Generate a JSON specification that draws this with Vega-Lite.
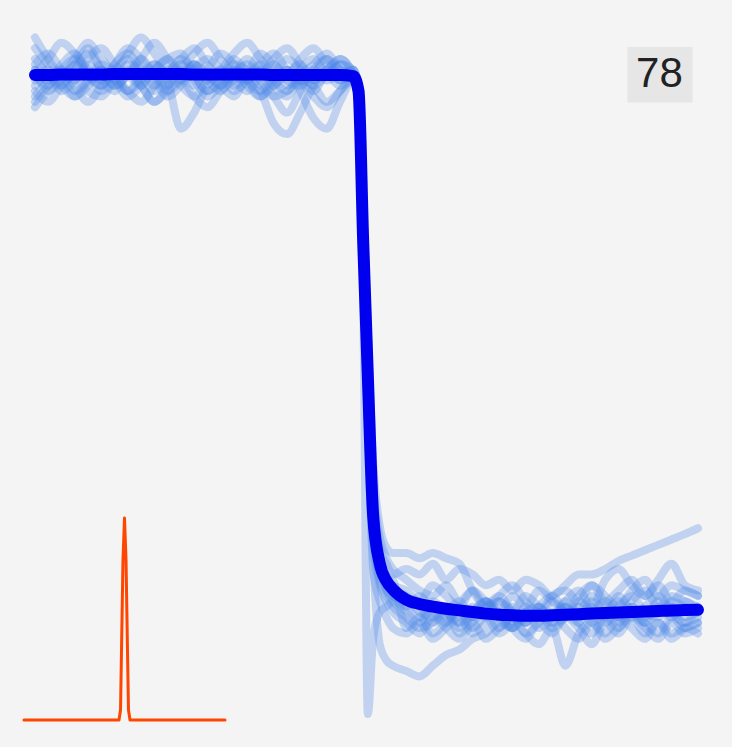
{
  "$schema": "https://vega.github.io/schema/vega-lite/v6.json",
  "width": 732,
  "height": 747,
  "autosize": {"type": "fit", "contains": "padding"},
  "padding": 0,
  "background": "#f4f4f4",
  "config": {"view": {"stroke": null, "fill": "#f4f4f4"}},
  "datasets": {
    "traces": [
      {"t":0,"a":102,"b":97,"c":100,"d":94,"e":101,"f":105,"g":99,"h":103,"i":96,"j":100,"k":107,"l":98,"m":101,"n":95,"avg":100},
      {"t":2,"a":104,"b":95,"c":103,"d":97,"e":99,"f":102,"g":101,"h":100,"i":99,"j":98,"k":103,"l":100,"m":97,"n":98,"avg":100},
      {"t":4,"a":101,"b":98,"c":106,"d":99,"e":102,"f":100,"g":98,"h":98,"i":101,"j":101,"k":100,"l":97,"m":99,"n":100,"avg":100.1},
      {"t":6,"a":99,"b":100,"c":104,"d":96,"e":104,"f":103,"g":96,"h":101,"i":98,"j":103,"k":102,"l":99,"m":102,"n":97,"avg":100.1},
      {"t":8,"a":103,"b":97,"c":101,"d":98,"e":100,"f":106,"g":99,"h":104,"i":95,"j":100,"k":105,"l":102,"m":100,"n":99,"avg":100.1},
      {"t":10,"a":105,"b":96,"c":99,"d":101,"e":97,"f":103,"g":102,"h":101,"i":98,"j":98,"k":101,"l":99,"m":98,"n":101,"avg":100.1},
      {"t":12,"a":102,"b":99,"c":102,"d":99,"e":99,"f":101,"g":100,"h":99,"i":101,"j":102,"k":98,"l":97,"m":100,"n":98,"avg":100.2},
      {"t":14,"a":100,"b":101,"c":105,"d":97,"e":102,"f":104,"g":97,"h":96,"i":103,"j":104,"k":100,"l":100,"m":97,"n":100,"avg":100.2},
      {"t":16,"a":98,"b":98,"c":103,"d":100,"e":101,"f":107,"g":95,"h":98,"i":100,"j":101,"k":103,"l":98,"m":99,"n":103,"avg":100.2},
      {"t":18,"a":101,"b":95,"c":100,"d":102,"e":98,"f":104,"g":98,"h":101,"i":97,"j":99,"k":106,"l":95,"m":102,"n":100,"avg":100.2},
      {"t":20,"a":103,"b":97,"c":98,"d":99,"e":100,"f":101,"g":101,"h":103,"i":99,"j":96,"k":103,"l":98,"m":100,"n":97,"avg":100.2},
      {"t":22,"a":104,"b":99,"c":101,"d":90,"e":103,"f":103,"g":99,"h":100,"i":102,"j":98,"k":100,"l":101,"m":98,"n":99,"avg":100.2},
      {"t":24,"a":100,"b":96,"c":104,"d":93,"e":101,"f":105,"g":102,"h":98,"i":100,"j":101,"k":102,"l":99,"m":96,"n":102,"avg":100.1},
      {"t":26,"a":97,"b":94,"c":106,"d":98,"e":99,"f":102,"g":100,"h":101,"i":97,"j":103,"k":99,"l":96,"m":99,"n":100,"avg":100.1},
      {"t":28,"a":99,"b":97,"c":103,"d":100,"e":97,"f":100,"g":98,"h":104,"i":99,"j":101,"k":101,"l":98,"m":101,"n":98,"avg":100.1},
      {"t":30,"a":102,"b":99,"c":100,"d":97,"e":100,"f":103,"g":96,"h":102,"i":101,"j":98,"k":104,"l":100,"m":99,"n":101,"avg":100.1},
      {"t":32,"a":101,"b":100,"c":99,"d":99,"e":102,"f":101,"g":99,"h":99,"i":98,"j":100,"k":106,"l":103,"m":97,"n":99,"avg":100.1},
      {"t":34,"a":100,"b":98,"c":102,"d":101,"e":99,"f":104,"g":97,"h":97,"i":96,"j":102,"k":103,"l":100,"m":100,"n":96,"avg":100.1},
      {"t":36,"a":103,"b":96,"c":104,"d":98,"e":96,"f":102,"g":91,"h":100,"i":99,"j":99,"k":100,"l":98,"m":102,"n":98,"avg":100},
      {"t":38,"a":105,"b":97,"c":101,"d":96,"e":93,"f":100,"g":89,"h":103,"i":101,"j":97,"k":98,"l":101,"m":99,"n":100,"avg":100},
      {"t":40,"a":102,"b":99,"c":99,"d":99,"e":97,"f":103,"g":93,"h":101,"i":97,"j":100,"k":101,"l":99,"m":98,"n":102,"avg":100},
      {"t":42,"a":99,"b":98,"c":100,"d":97,"e":101,"f":105,"g":98,"h":98,"i":92,"j":102,"k":103,"l":96,"m":101,"n":99,"avg":100},
      {"t":44,"a":101,"b":95,"c":103,"d":100,"e":99,"f":102,"g":101,"h":100,"i":90,"j":104,"k":100,"l":94,"m":103,"n":101,"avg":100},
      {"t":46,"a":103,"b":97,"c":101,"d":98,"e":100,"f":100,"g":99,"h":102,"i":95,"j":101,"k":102,"l":97,"m":99,"n":103,"avg":100},
      {"t":48,"a":100,"b":99,"c":100,"d":99,"e":101,"f":101,"g":100,"h":100,"i":99,"j":99,"k":101,"l":100,"m":100,"n":100,"avg":99.8},
      {"t":48.8,"a":97,"b":96,"c":98,"d":96,"e":97,"f":98,"g":95,"h":97,"i":96,"j":97,"k":98,"l":96,"m":97,"n":97,"avg":97},
      {"t":49.5,"a":72,"b":68,"c":74,"d":65,"e":70,"f":76,"g":60,"h":71,"i":66,"j":69,"k":73,"l":67,"m":70,"n":71,"avg":69},
      {"t":50.2,"a":45,"b":40,"c":48,"d":35,"e":44,"f":52,"g":-19,"h":42,"i":36,"j":41,"k":47,"l":38,"m":43,"n":44,"avg":44},
      {"t":51,"a":20,"b":15,"c":24,"d":8,"e":18,"f":28,"g":-5,"h":16,"i":10,"j":17,"k":22,"l":13,"m":18,"n":19,"avg":18},
      {"t":52,"a":10,"b":6,"c":14,"d":2,"e":9,"f":16,"g":0,"h":8,"i":-6,"j":8,"k":12,"l":5,"m":9,"n":10,"avg":9},
      {"t":53,"a":6,"b":3,"c":10,"d":-1,"e":5,"f":12,"g":1,"h":4,"i":-9,"j":6,"k":9,"l":2,"m":4,"n":7,"avg":5.8},
      {"t":54,"a":3,"b":1,"c":8,"d":-3,"e":4,"f":11,"g":2,"h":2,"i":-10,"j":5,"k":7,"l":0,"m":3,"n":6,"avg":4.2},
      {"t":56,"a":2,"b":-1,"c":6,"d":-4,"e":3,"f":11,"g":1,"h":0,"i":-11,"j":4,"k":8,"l":-2,"m":1,"n":-3,"avg":2.3},
      {"t":58,"a":0,"b":-3,"c":4,"d":-2,"e":1,"f":10,"g":3,"h":-2,"i":-12,"j":2,"k":7,"l":-4,"m":-1,"n":-1,"avg":1.5},
      {"t":60,"a":-1,"b":-2,"c":3,"d":-5,"e":-2,"f":11,"g":0,"h":1,"i":-10,"j":5,"k":9,"l":-1,"m":2,"n":-4,"avg":1},
      {"t":62,"a":1,"b":0,"c":5,"d":-3,"e":0,"f":10,"g":-2,"h":-1,"i":-8,"j":3,"k":6,"l":-3,"m":0,"n":-2,"avg":0.6},
      {"t":64,"a":-2,"b":-4,"c":2,"d":-1,"e":2,"f":9,"g":1,"h":-3,"i":-7,"j":1,"k":8,"l":-5,"m":-2,"n":0,"avg":0.3},
      {"t":66,"a":0,"b":-2,"c":4,"d":-4,"e":-1,"f":4,"g":-1,"h":0,"i":-5,"j":4,"k":7,"l":-2,"m":1,"n":-3,"avg":0},
      {"t":68,"a":2,"b":-5,"c":1,"d":-2,"e":1,"f":1,"g":2,"h":2,"i":-4,"j":2,"k":5,"l":0,"m":-1,"n":-1,"avg":-0.3},
      {"t":70,"a":-1,"b":-3,"c":3,"d":0,"e":3,"f":2,"g":0,"h":-1,"i":-2,"j":0,"k":6,"l":-3,"m":2,"n":-4,"avg":-0.5},
      {"t":72,"a":-3,"b":-1,"c":5,"d":-3,"e":0,"f":0,"g":-3,"h":1,"i":-3,"j":3,"k":4,"l":-1,"m":0,"n":-2,"avg":-0.6},
      {"t":74,"a":0,"b":-4,"c":2,"d":-5,"e":-2,"f":3,"g":1,"h":-2,"i":-1,"j":1,"k":6,"l":-4,"m":-2,"n":0,"avg":-0.7},
      {"t":76,"a":1,"b":-2,"c":0,"d":-2,"e":1,"f":1,"g":-1,"h":0,"i":0,"j":4,"k":5,"l":-6,"m":1,"n":-3,"avg":-0.7},
      {"t":78,"a":-2,"b":0,"c":3,"d":-4,"e":-1,"f":-1,"g":2,"h":-3,"i":-2,"j":2,"k":3,"l":-3,"m":3,"n":-1,"avg":-0.6},
      {"t":80,"a":-1,"b":-3,"c":4,"d":-1,"e":2,"f":2,"g":0,"h":-1,"i":1,"j":0,"k":5,"l":-10,"m":0,"n":1,"avg":-0.5},
      {"t":82,"a":2,"b":-5,"c":2,"d":-3,"e":4,"f":0,"g":-2,"h":1,"i":-1,"j":3,"k":7,"l":-4,"m":-1,"n":-2,"avg":-0.4},
      {"t":84,"a":0,"b":-2,"c":5,"d":-6,"e":1,"f":3,"g":1,"h":-2,"i":0,"j":5,"k":7,"l":-2,"m":2,"n":-4,"avg":-0.3},
      {"t":86,"a":-2,"b":-4,"c":3,"d":-2,"e":6,"f":1,"g":-1,"h":0,"i":2,"j":2,"k":8,"l":-5,"m":0,"n":-1,"avg":-0.2},
      {"t":88,"a":1,"b":-1,"c":1,"d":-4,"e":8,"f":-1,"g":3,"h":2,"i":-1,"j":4,"k":9.5,"l":-3,"m":-2,"n":-3,"avg":-0.1},
      {"t":90,"a":3,"b":-3,"c":4,"d":-1,"e":5,"f":2,"g":0,"h":-1,"i":1,"j":6,"k":10.5,"l":-1,"m":1,"n":0,"avg":0},
      {"t":92,"a":0,"b":-5,"c":6,"d":-3,"e":3,"f":4,"g":-2,"h":1,"i":-2,"j":3,"k":11.5,"l":-4,"m":-1,"n":-2,"avg":0.1},
      {"t":94,"a":-1,"b":-2,"c":3,"d":-5,"e":6,"f":1,"g":1,"h":3,"i":0,"j":5,"k":12.5,"l":-2,"m":2,"n":-4,"avg":0.2},
      {"t":96,"a":2,"b":-4,"c":5,"d":-2,"e":9,"f":3,"g":-1,"h":0,"i":1,"j":2,"k":13.5,"l":-5,"m":0,"n":-1,"avg":0.3},
      {"t":98,"a":1,"b":-3,"c":4,"d":-4,"e":5,"f":2,"g":2,"h":-2,"i":-1,"j":4,"k":14.5,"l":-3,"m":-2,"n":-3,"avg":0.35},
      {"t":100,"a":0,"b":-4,"c":3,"d":-3,"e":4,"f":1,"g":0,"h":-1,"i":0,"j":3,"k":15.6,"l":-2,"m":1,"n":-2,"avg":0.4}
    ],
    "kernel": [
      {"kx":-1.66,"ky":-20.1},
      {"kx":12.67,"ky":-20.1},
      {"kx":12.9,"ky":-18.25},
      {"kx":13.05,"ky":-7.08},
      {"kx":13.27,"ky":9.68},
      {"kx":13.5,"ky":17.5},
      {"kx":13.73,"ky":9.68},
      {"kx":13.95,"ky":-7.08},
      {"kx":14.1,"ky":-18.25},
      {"kx":14.33,"ky":-20.1},
      {"kx":28.66,"ky":-20.1}
    ],
    "label": [
      {"x1":89.34,"x2":99.2,"y1":105.2,"y2":94.9,"lx":94.19,"ly":97.8,"txt":"78"}
    ]
  },
  "layer": [
    {
      "data": {"name": "traces"},
      "transform": [{"fold": ["a","b","c","d","e","f","g","h","i","j","k","l","m","n"], "as": ["key","value"]}],
      "mark": {"type": "line", "color": "#4a86e8", "opacity": 0.3, "strokeWidth": 8, "interpolate": "monotone", "strokeCap": "round", "strokeJoin": "round"},
      "encoding": {
        "x": {"field": "t", "type": "quantitative", "scale": {"domain": [-5.279, 105.13], "nice": false, "zero": false}, "axis": null},
        "y": {"field": "value", "type": "quantitative", "scale": {"domain": [-25.14, 113.97], "nice": false, "zero": false}, "axis": null},
        "detail": {"field": "key"}
      }
    },
    {
      "data": {"name": "traces"},
      "mark": {"type": "line", "color": "#0000ee", "strokeWidth": 12, "interpolate": "monotone", "strokeCap": "round", "strokeJoin": "round"},
      "encoding": {
        "x": {"field": "t", "type": "quantitative", "axis": null},
        "y": {"field": "avg", "type": "quantitative", "axis": null}
      }
    },
    {
      "data": {"name": "kernel"},
      "mark": {"type": "line", "color": "#ff4500", "strokeWidth": 3, "strokeCap": "round", "strokeJoin": "round"},
      "encoding": {
        "x": {"field": "kx", "type": "quantitative", "axis": null},
        "y": {"field": "ky", "type": "quantitative", "axis": null}
      }
    },
    {
      "data": {"name": "label"},
      "mark": {"type": "rect", "color": "#e6e6e6"},
      "encoding": {
        "x": {"field": "x1", "type": "quantitative", "axis": null},
        "x2": {"field": "x2"},
        "y": {"field": "y1", "type": "quantitative", "axis": null},
        "y2": {"field": "y2"}
      }
    },
    {
      "data": {"name": "label"},
      "mark": {"type": "text", "fontSize": 42, "font": "Liberation Sans", "color": "#222222", "align": "center", "baseline": "alphabetic"},
      "encoding": {
        "x": {"field": "lx", "type": "quantitative", "axis": null},
        "y": {"field": "ly", "type": "quantitative", "axis": null},
        "text": {"field": "txt"}
      }
    }
  ]
}
